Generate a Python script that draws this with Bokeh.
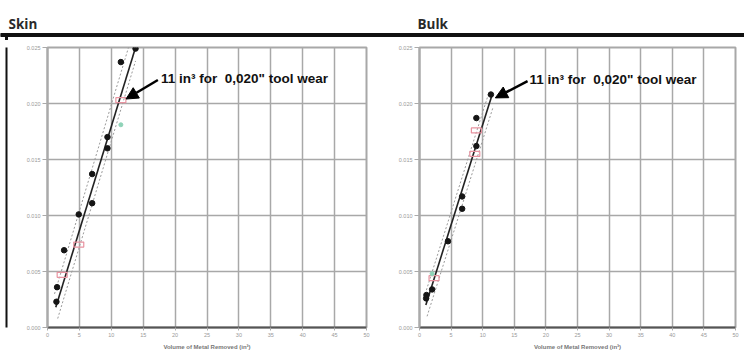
from bokeh.plotting import figure
from bokeh.layouts import row, column
from bokeh.models import Range1d, FixedTicker, Arrow, NormalHead, Label
from bokeh.embed import file_html
from bokeh.resources import INLINE

# ---- data ----
panel_titles = ["Skin", "Bulk"]
x_ticks = [0, 5, 10, 15, 20, 25, 30, 35, 40, 45, 50]
y_ticks = [0.000, 0.005, 0.010, 0.015, 0.020, 0.025]
y_tick_labels = ["0.000", "0.005", "0.010", "0.015", "0.020", "0.025"]
x_title = "Volume of Metal Removed (in³)"
note = "11 in³ for\u00a0 0,020\" tool wear"

skin_x = [1.4, 1.5, 2.6, 4.9, 7.0, 7.0, 9.4, 9.4, 11.5, 13.8]
skin_y = [0.0023, 0.0036, 0.0069, 0.0101, 0.0111, 0.0137, 0.0160, 0.0170, 0.0237, 0.0249]
skin_red_x = [2.3, 4.9, 11.5]
skin_red_y = [0.0047, 0.0074, 0.0203]
skin_green_x = [11.5]
skin_green_y = [0.0181]
skin_fit_x = [1.3, 13.8]
skin_fit_y = [0.0018, 0.0250]
skin_lo_x = [1.6, 13.8]
skin_lo_y = [0.0008, 0.0238]
skin_hi_x = [1.1, 12.8]
skin_hi_y = [0.0030, 0.0252]
skin_note_xy = [17.8, 0.0222]
skin_arrow = [17.3, 0.0221, 12.3, 0.0204]

bulk_x = [1.05, 1.1, 2.0, 4.5, 6.75, 6.75, 9.0, 9.0, 11.3]
bulk_y = [0.0026, 0.0029, 0.0034, 0.0077, 0.0117, 0.0106, 0.0187, 0.0162, 0.0208]
bulk_red_x = [2.3, 8.75, 9.0]
bulk_red_y = [0.0044, 0.0155, 0.0176]
bulk_green_x = [2.0]
bulk_green_y = [0.0048]
bulk_fit_x = [1.0, 11.5]
bulk_fit_y = [0.0020, 0.0208]
bulk_lo_x = [1.2, 11.6]
bulk_lo_y = [0.0010, 0.0196]
bulk_hi_x = [0.9, 11.0]
bulk_hi_y = [0.0030, 0.0210]
bulk_note_xy = [17.4, 0.0221]
bulk_arrow = [17.1, 0.0220, 12.0, 0.0205]

W, H_HEAD = 744, 40


def blank(width, height, xr, yr, bl=0, br=0, bt=0, bb=0, fill="white"):
    f = figure(width=width, height=height, output_backend="svg", toolbar_location=None,
               x_axis_type=None, y_axis_type=None, x_range=xr, y_range=yr,
               min_border_left=bl, min_border_right=br, min_border_top=bt, min_border_bottom=bb)
    f.background_fill_color = fill
    f.border_fill_color = "white"
    f.outline_line_color = None
    f.grid.visible = False
    return f


# header strip: panel titles above a thick black rule (pixel coordinates, y downwards)
head = blank(W, H_HEAD, Range1d(0, W), Range1d(H_HEAD, 0))
head.quad(left=[0], right=[W], top=[33], bottom=[36], color="#111111")
head.quad(left=[5], right=[7], top=[33], bottom=[H_HEAD], color="#111111")
for t, xpos in zip(panel_titles, [8, 417]):
    head.add_layout(Label(x=xpos, y=23, text=t, text_font="Open Sans", text_font_size="13.5px",
                          text_font_style="bold", text_color="#2a2a2a", text_baseline="alphabetic"))


def make_panel(width, bl, br, pts, red, green, fit, lo, hi, note_xy, arrow):
    p = figure(width=width, height=354 - H_HEAD, output_backend="svg", toolbar_location=None,
               x_range=Range1d(0, 50), y_range=Range1d(0, 0.025),
               min_border_left=bl, min_border_right=br, min_border_top=7, min_border_bottom=27)
    p.background_fill_color = "white"
    p.border_fill_color = "white"
    p.outline_line_color = "#a8a8a8"
    p.outline_line_width = 2

    for ax in (p.xaxis[0], p.yaxis[0]):
        ax.major_label_text_font = "Liberation Sans"
        ax.major_label_text_font_size = "5.5px"
        ax.major_label_text_color = "#999999"
        ax.minor_tick_line_color = None
        ax.major_tick_in = 0
        ax.major_tick_line_color = "#aaaaaa"
        ax.major_label_standoff = 2
    p.xaxis.ticker = FixedTicker(ticks=x_ticks)
    p.yaxis.ticker = FixedTicker(ticks=y_ticks)
    p.yaxis.major_label_overrides = {t: l for t, l in zip(y_ticks, y_tick_labels)}
    p.xaxis.major_tick_out = 3
    p.yaxis.major_tick_out = 5
    p.xaxis.axis_line_color = "#555555"
    p.xaxis.axis_line_width = 2
    p.yaxis.axis_line_color = "#aaaaaa"
    p.yaxis.axis_line_width = 2
    p.xaxis.axis_label = x_title
    p.xaxis.axis_label_text_font = "Liberation Sans"
    p.xaxis.axis_label_text_font_size = "6px"
    p.xaxis.axis_label_text_font_style = "bold"
    p.xaxis.axis_label_text_color = "#777777"
    p.xaxis.axis_label_standoff = 4

    p.xgrid.ticker = FixedTicker(ticks=x_ticks)
    p.ygrid.ticker = FixedTicker(ticks=y_ticks)
    p.grid.grid_line_color = "#a8a8a8"
    p.grid.grid_line_width = 1.5

    p.line(lo[0], lo[1], line_color="#999999", line_width=1, line_dash="2 2")
    p.line(hi[0], hi[1], line_color="#999999", line_width=1, line_dash="2 2")
    p.line(fit[0], fit[1], line_color="#222222", line_width=1.6)
    p.rect(red[0], red[1], width=10, height=5, width_units="screen", height_units="screen",
           fill_color=None, line_color="#e893a0", line_width=1.2)
    p.scatter(green[0], green[1], size=4, color="#8fd3b8")
    p.scatter(pts[0], pts[1], size=5.5, color="#151515")

    p.add_layout(Arrow(end=NormalHead(size=12, fill_color="black", line_color="black"),
                       x_start=arrow[0], y_start=arrow[1], x_end=arrow[2], y_end=arrow[3],
                       line_width=2.5, line_color="black"))
    p.add_layout(Label(x=note_xy[0], y=note_xy[1], text=note, text_font="Liberation Sans",
                       text_font_style="bold", text_font_size="13.5px", text_baseline="middle",
                       text_color="#111111"))
    return p


side = blank(8, 354 - H_HEAD, Range1d(0, 1), Range1d(0, 1), bl=5, br=1, fill="#111111")
p1 = make_panel(364, 39, 6,
                (skin_x, skin_y), (skin_red_x, skin_red_y), (skin_green_x, skin_green_y),
                (skin_fit_x, skin_fit_y), (skin_lo_x, skin_lo_y), (skin_hi_x, skin_hi_y),
                skin_note_xy, skin_arrow)
p2 = make_panel(372, 47, 9,
                (bulk_x, bulk_y), (bulk_red_x, bulk_red_y), (bulk_green_x, bulk_green_y),
                (bulk_fit_x, bulk_fit_y), (bulk_lo_x, bulk_lo_y), (bulk_hi_x, bulk_hi_y),
                bulk_note_xy, bulk_arrow)

layout = column(head, row(side, p1, p2, spacing=0), spacing=0)
open("out.html", "w").write(file_html(layout, INLINE))
